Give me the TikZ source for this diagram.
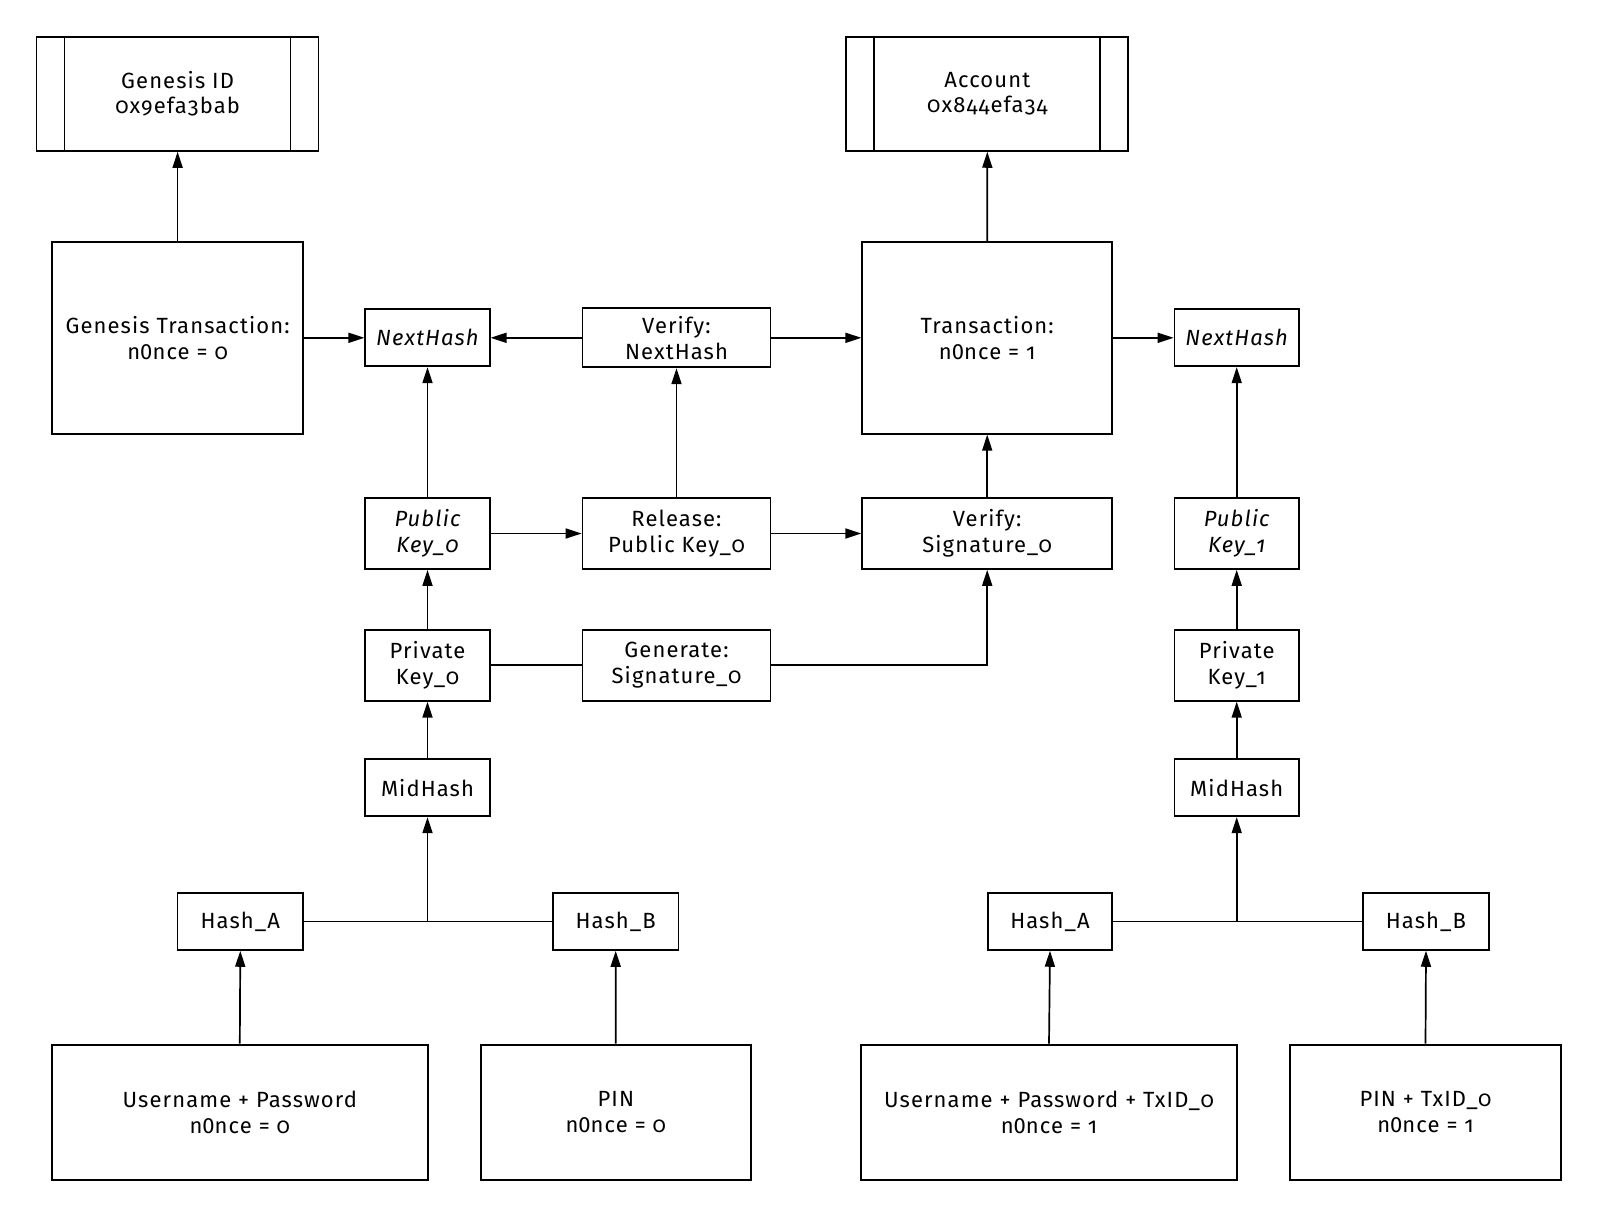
\documentclass[tikz,border=0pt]{standalone}
\usepackage{fontspec}
\setmainfont{Fira Sans}[Numbers=OldStyle,LetterSpace=5]
\usetikzlibrary{arrows.meta}
\newcommand{\lzero}{{\addfontfeatures{Numbers=Lining}0}}
\begin{document}
\begin{tikzpicture}[x=1pt,y=-1pt,
  box/.style={draw, line width=1.7pt, inner sep=0pt, align=center,
    font=\fontsize{22}{25.5}\selectfont},
  small/.style={box, minimum width=124.5pt, minimum height=57pt},
  mid/.style={box, minimum width=124.5pt, minimum height=71pt},
  wide/.style={box, minimum width=188pt, minimum height=71pt},
  big/.style={box, minimum width=251pt, minimum height=192pt},
  base/.style={box, minimum height=135pt, line width=2pt},
  idbox/.style={box, minimum width=282pt, minimum height=114pt,
    path picture={
      \draw[line width=1.7pt] ([xshift=28pt]path picture bounding box.north west) -- ([xshift=28pt]path picture bounding box.south west);
      \draw[line width=1.7pt] ([xshift=-28pt]path picture bounding box.north east) -- ([xshift=-28pt]path picture bounding box.south east);}},
  arr/.style={line width=1.7pt, -{Triangle[length=16pt,width=10pt]}},
  ln/.style={line width=1.7pt}]
\useasboundingbox (0,0) rectangle (1600,1218);

% top row
\node[idbox] (gid) at (177.6,93.9) {Genesis ID\\0x9efa3bab};
\node[idbox] (acc) at (987.3,93.9) {Account\\0x844efa34};

% transactions row
\node[big] (gtx) at (177.6,337.8) {Genesis Transaction:\\n\lzero nce = 0};
\node[small] (nhl) at (427.5,337.8) {\itshape NextHash};
\node[wide, minimum height=59pt] (vnh) at (676.5,337.8) {Verify:\\NextHash};
\node[big, minimum width=250pt] (tx) at (987.2,337.8) {Transaction:\\n\lzero nce = 1};
\node[small] (nhr) at (1236.7,337.8) {\itshape NextHash};

% public key row
\node[mid] (pk0) at (427.5,533.5) {\itshape Public\\\itshape Key\_0};
\node[wide] (rel) at (676.5,533.5) {Release:\\Public Key\_0};
\node[box, minimum width=250pt, minimum height=71pt] (vsig) at (987.2,533.5) {Verify:\\Signature\_0};
\node[mid] (pk1) at (1236.7,533.5) {\itshape Public\\\itshape Key\_1};

% private key row
\node[mid] (pv0) at (427.5,665.3) {Private\\Key\_0};
\node[wide] (gen) at (676.5,665.3) {Generate:\\Signature\_0};
\node[mid] (pv1) at (1236.7,665.3) {Private\\Key\_1};

% midhash row
\node[small] (mh0) at (427.5,787.8) {MidHash};
\node[small] (mh1) at (1236.7,787.8) {MidHash};

% hash row
\node[small, minimum width=125.5pt] (ha0) at (240.3,921.4) {Hash\_A};
\node[small, minimum width=125.5pt] (hb0) at (615.7,921.4) {Hash\_B};
\node[small] (ha1) at (1050,921.4) {Hash\_A};
\node[small, minimum width=125.5pt] (hb1) at (1426,921.4) {Hash\_B};

% base inputs
\node[base, minimum width=375.6pt] (up0) at (239.8,1112.2) {Username + Password\\n\lzero nce = 0};
\node[base, minimum width=270.4pt] (pin0) at (615.8,1112.2) {PIN\\n\lzero nce = 0};
\node[base, minimum width=375.5pt] (up1) at (1049,1112.2) {Username + Password + TxID\_0\\n\lzero nce = 1};
\node[base, minimum width=271.4pt] (pin1) at (1425.5,1112.2) {PIN + TxID\_0\\n\lzero nce = 1};

% connectors
\draw[arr] (gtx.north) -- (gid.south);
\draw[arr] (tx.north) -- (acc.south);
\draw[arr] (gtx.east) -- (nhl.west);
\draw[arr] (vnh.west) -- (nhl.east);
\draw[arr] (vnh.east) -- (tx.west);
\draw[arr] (tx.east) -- (nhr.west);

\draw[arr] (pk0.north) -- (nhl.south);
\draw[arr] (pk0.east) -- (rel.west);
\draw[arr] (rel.north) -- (vnh.south);
\draw[arr] (rel.east) -- (vsig.west);
\draw[arr] (vsig.north) -- (tx.south);
\draw[arr] (pk1.north) -- (nhr.south);

\draw[arr] (pv0.north) -- (pk0.south);
\draw[ln] (pv0.east) -- (gen.west);
\draw[arr] (gen.east) -| (vsig.south);
\draw[arr] (pv1.north) -- (pk1.south);

\draw[arr] (mh0.north) -- (pv0.south);
\draw[arr] (mh1.north) -- (pv1.south);

\coordinate (j0) at (mh0.south |- ha0.east);
\coordinate (j1) at (mh1.south |- ha1.east);
\draw[ln] (ha0.east) -- (hb0.west);
\draw[arr] (j0) -- (mh0.south);
\draw[ln] (ha1.east) -- (hb1.west);
\draw[arr] (j1) -- (mh1.south);

\draw[arr] (up0.north) -- (ha0.south);
\draw[arr] (pin0.north) -- (hb0.south);
\draw[arr] (up1.north) -- (ha1.south);
\draw[arr] (pin1.north) -- (hb1.south);
\end{tikzpicture}
\end{document}
